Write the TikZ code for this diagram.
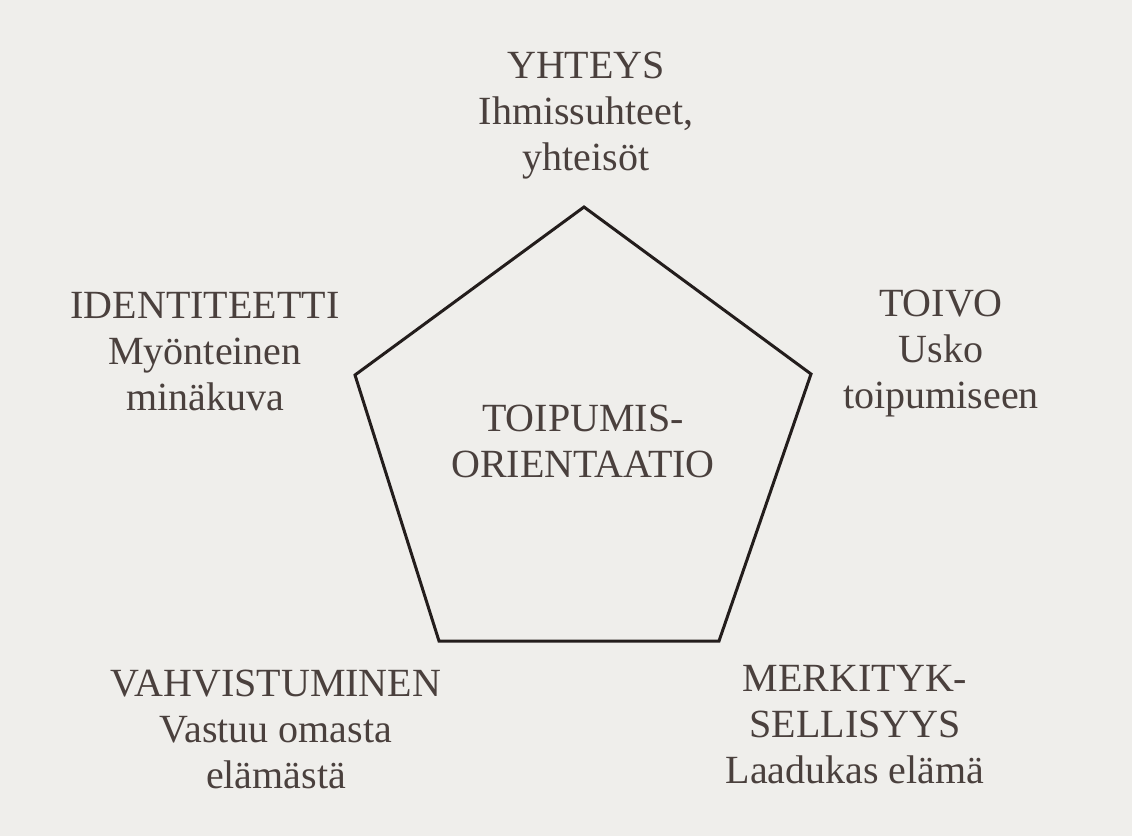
\documentclass[tikz,border=0pt]{standalone}
\usepackage{fontspec}
\setmainfont{Liberation Serif}
\usepackage{xcolor}
\definecolor{pagegray}{HTML}{EFEEEB}
\definecolor{inkbrown}{HTML}{4A403D}
\definecolor{lineink}{HTML}{231D1C}
\usetikzlibrary{positioning}

\begin{document}
\begin{tikzpicture}[
    x=1pt, y=-1pt,
    theme/.style={anchor=north, inner sep=0pt, align=center, text=inkbrown, font=\fontsize{40}{46}\selectfont},
    edge/.style={draw=lineink, line width=3pt, line join=miter},
]
    % page
    \fill[pagegray] (0,0) rectangle (1132,836);
    \useasboundingbox (0,0) rectangle (1132,836);

    % pentagon corners
    \coordinate (ptop) at (584,207);
    \coordinate (pright) at (811,374);
    \coordinate (pbr) at (719,641);
    \coordinate (pbl) at (439,641);
    \coordinate (pleft) at (355,375);
    \draw[edge] (ptop) -- (pright) -- (pbr) -- (pbl) -- (pleft) -- cycle;

    % centre
    \node[theme] (core) at (583,405) {TOIPUMIS-\\ORIENTAATIO};

    % themes around
    \node[theme] (yhteys) at (586,52) {YHTEYS\\Ihmissuhteet,\\yhteisöt};
    \node[theme] (identiteetti) at (205,292) {IDENTITEETTI\\Myönteinen\\minäkuva};
    \node[theme] (toivo) at (941,290) {TOIVO\\Usko\\toipumiseen};
    \node[theme] (vahvistuminen) at (276,670) {VAHVISTUMINEN\\Vastuu omasta\\elämästä};
    \node[theme] (merkitys) at (855,665) {MERKITYK-\\SELLISYYS\\Laadukas elämä};
\end{tikzpicture}
\end{document}
